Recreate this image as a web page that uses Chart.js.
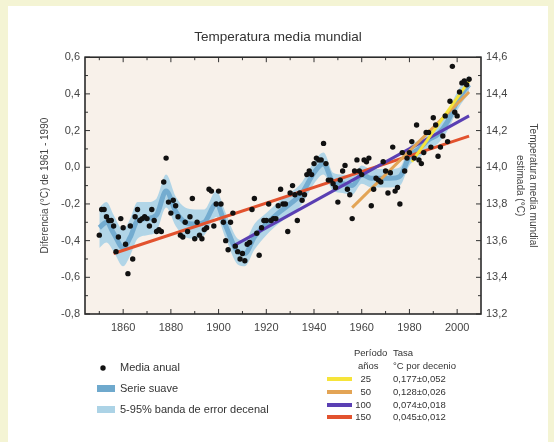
<!DOCTYPE html>
<html>
<head>
<meta charset="utf-8">
<script src="https://cdn.jsdelivr.net/npm/chart.js@4.4.0/dist/chart.umd.min.js"></script>
<style>
  html, body { margin: 0; padding: 0; background: #f4f4d4; }
  #panel { position: absolute; left: 8px; top: 6px; width: 540px; height: 436px; background: #fff; }
</style>
</head>
<body>
<div id="panel"><canvas id="myChart" width="540" height="436"></canvas></div>
<script>
// datos
const YEARS = Array.from({ length: 156 }, (_, i) => 1850 + i);
const ANOMALY = [
  -0.37, -0.23, -0.23, -0.27, -0.29, -0.29, -0.32, -0.46, -0.38, -0.28,
  -0.33, -0.42, -0.58, -0.32, -0.50, -0.27, -0.23, -0.29, -0.28, -0.27,
  -0.28, -0.32, -0.23, -0.29, -0.35, -0.34, -0.35, -0.08, 0.05, -0.19,
  -0.25, -0.18, -0.21, -0.27, -0.37, -0.38, -0.30, -0.35, -0.27, -0.17,
  -0.39, -0.30, -0.37, -0.39, -0.34, -0.33, -0.12, -0.13, -0.32, -0.20,
  -0.13, -0.20, -0.30, -0.40, -0.45, -0.30, -0.25, -0.43, -0.46, -0.50,
  -0.47, -0.51, -0.42, -0.41, -0.23, -0.17, -0.36, -0.48, -0.33, -0.29,
  -0.29, -0.20, -0.29, -0.28, -0.28, -0.21, -0.12, -0.20, -0.20, -0.35,
  -0.14, -0.10, -0.15, -0.29, -0.14, -0.18, -0.15, -0.04, -0.02, -0.04,
  0.02, 0.05, 0.04, 0.04, 0.13, 0.02, -0.07, -0.07, -0.09, -0.11,
  -0.19, -0.07, -0.02, 0.01, -0.12, -0.15, -0.28, -0.02, 0.04, -0.02,
  -0.04, 0.04, 0.03, 0.05, -0.21, -0.12, -0.06, -0.07, -0.08, 0.03,
  -0.02, -0.14, -0.03, 0.11, -0.13, -0.11, -0.20, 0.08, -0.02, 0.05,
  0.08, 0.14, 0.05, 0.23, 0.04, 0.02, 0.08, 0.19, 0.19, 0.11,
  0.27, 0.23, 0.06, 0.11, 0.17, 0.28, 0.14, 0.36, 0.55, 0.30,
  0.28, 0.41, 0.46, 0.47, 0.45, 0.48
];

// serie suave y banda de error
const SMOOTH_YEARS = [1850, 1853, 1856, 1860, 1863, 1866, 1870, 1874, 1878, 1882, 1886, 1890, 1894, 1899, 1903, 1908, 1911, 1915, 1920, 1925, 1930, 1935, 1940, 1944, 1948, 1952, 1956, 1960, 1964, 1968, 1972, 1976, 1980, 1984, 1988, 1992, 1996, 2000, 2003, 2005];
const SMOOTH = [-0.33, -0.30, -0.36, -0.44, -0.38, -0.29, -0.28, -0.26, -0.13, -0.24, -0.30, -0.31, -0.30, -0.20, -0.32, -0.46, -0.47, -0.38, -0.31, -0.25, -0.20, -0.14, -0.03, 0.02, -0.08, -0.09, -0.10, -0.04, -0.06, -0.06, -0.06, -0.05, 0.06, 0.10, 0.15, 0.18, 0.25, 0.36, 0.42, 0.45];
const BAND_LOW = [-0.44, -0.41, -0.46, -0.54, -0.48, -0.39, -0.37, -0.35, -0.22, -0.32, -0.38, -0.39, -0.37, -0.27, -0.39, -0.53, -0.54, -0.45, -0.37, -0.31, -0.26, -0.20, -0.09, -0.04, -0.13, -0.14, -0.15, -0.09, -0.11, -0.11, -0.11, -0.10, 0.01, 0.05, 0.10, 0.13, 0.20, 0.31, 0.37, 0.40];
const BAND_HIGH = [-0.22, -0.19, -0.26, -0.34, -0.28, -0.19, -0.19, -0.17, -0.04, -0.16, -0.22, -0.23, -0.23, -0.13, -0.25, -0.39, -0.40, -0.31, -0.25, -0.19, -0.14, -0.08, 0.03, 0.08, -0.03, -0.04, -0.05, 0.01, -0.01, -0.01, -0.01, 0.00, 0.11, 0.15, 0.20, 0.23, 0.30, 0.41, 0.47, 0.50];

// tendencias lineales
const TREND_PERIODS = ['25', '50', '100', '150'];
const TREND_RATES = ['0,177±0,052', '0,128±0,026', '0,074±0,018', '0,045±0,012'];
const TREND_START_YEAR = [1981, 1956, 1906, 1856];
const TREND_END_YEAR = [2005, 2005, 2005, 2005];
const TREND_START_VAL = [0.03, -0.22, -0.43, -0.47];
const TREND_END_VAL = [0.47, 0.41, 0.28, 0.17];
const TREND_COLORS = ['#f6e43a', '#e3a455', '#5a3fb3', '#e2522e'];

const X_TICKS = [1860, 1880, 1900, 1920, 1940, 1960, 1980, 2000];
const Y_TICKS = [-0.8, -0.6, -0.4, -0.2, 0.0, 0.2, 0.4, 0.6];
const Y2_TICKS = [13.2, 13.4, 13.6, 13.8, 14.0, 14.2, 14.4, 14.6];

const FONT = '"Liberation Sans", Arial, sans-serif';
const fmt = v => v.toFixed(1).replace('.', ',');

// fondo del área del gráfico
const plotBg = {
  id: 'plotBg',
  beforeDraw(chart) {
    const { ctx, chartArea: a } = chart;
    ctx.save();
    ctx.fillStyle = '#f8f1ea';
    ctx.fillRect(a.left, a.top, a.right - a.left, a.bottom - a.top);
    ctx.restore();
  }
};

// marco y marcas hacia dentro
const frameTicks = {
  id: 'frameTicks',
  afterDatasetsDraw(chart) {
    const { ctx, chartArea: a, scales } = chart;
    ctx.save();
    ctx.strokeStyle = '#333';
    ctx.lineWidth = 1;
    ctx.beginPath();
    for (let yr = 1850; yr <= 2010; yr += 10) {
      const x = scales.x.getPixelForValue(yr);
      if (x <= a.left || x >= a.right) continue;
      const len = yr % 20 === 0 ? 5 : 3;
      ctx.moveTo(x, a.bottom); ctx.lineTo(x, a.bottom - len);
      ctx.moveTo(x, a.top); ctx.lineTo(x, a.top + len);
    }
    for (let k = -8; k <= 6; k++) {
      const y = scales.y.getPixelForValue(k / 10);
      const len = k % 2 === 0 ? 5 : 3;
      ctx.moveTo(a.left, y); ctx.lineTo(a.left + len, y);
      ctx.moveTo(a.right, y); ctx.lineTo(a.right - len, y);
    }
    ctx.stroke();
    ctx.lineWidth = 1.6;
    ctx.strokeStyle = '#2b2b2b';
    ctx.strokeRect(a.left, a.top, a.right - a.left, a.bottom - a.top);
    ctx.restore();
  }
};

// leyenda
const legendBox = {
  id: 'legendBox',
  afterDraw(chart) {
    const c = chart.ctx;
    c.save();
    c.textBaseline = 'middle';
    c.fillStyle = '#333';
    c.font = '11px ' + FONT;
    c.beginPath(); c.arc(95, 362, 2.7, 0, Math.PI * 2); c.fillStyle = '#111'; c.fill();
    c.fillStyle = '#333';
    c.fillText('Media anual', 112, 362);
    c.fillStyle = '#6fa9cd'; c.fillRect(89, 379, 18, 7);
    c.fillStyle = '#333'; c.fillText('Serie suave', 112, 383);
    c.fillStyle = '#acd3e6'; c.fillRect(89, 400, 18, 7);
    c.fillStyle = '#333'; c.fillText('5-95% banda de error decenal', 112, 404);

    c.font = '9.5px ' + FONT;
    c.fillText('Período', 346, 347);
    c.fillText('Tasa', 385, 347);
    c.fillText('años', 350, 360);
    c.fillText('°C por decenio', 385, 360);
    const rows = [373, 386, 399, 411];
    rows.forEach((y, i) => {
      c.strokeStyle = TREND_COLORS[i];
      c.lineWidth = 4;
      c.beginPath(); c.moveTo(319, y); c.lineTo(344, y); c.stroke();
      c.fillStyle = '#333';
      c.textAlign = 'right';
      c.fillText(TREND_PERIODS[i], 363, y);
      c.textAlign = 'left';
      c.fillText(TREND_RATES[i], 385, y);
    });
    c.restore();
  }
};

const ctx = document.getElementById('myChart');

const datasets = [
  {
    label: 'Media anual',
    data: YEARS.map((yr, i) => ({ x: yr, y: ANOMALY[i] })),
    showLine: false,
    pointRadius: 2.7,
    pointBackgroundColor: '#111',
    pointBorderWidth: 0
  }
];
TREND_PERIODS.forEach((p, i) => {
  datasets.push({
    label: p + ' años',
    data: [
      { x: TREND_START_YEAR[i], y: TREND_START_VAL[i] },
      { x: TREND_END_YEAR[i], y: TREND_END_VAL[i] }
    ],
    borderColor: TREND_COLORS[i],
    borderWidth: 3,
    pointRadius: 0
  });
});
datasets.push({
  label: 'Serie suave',
  data: SMOOTH_YEARS.map((yr, i) => ({ x: yr, y: SMOOTH[i] })),
  borderColor: '#74acd0',
  borderWidth: 5,
  pointRadius: 0,
  cubicInterpolationMode: 'monotone'
});
datasets.push({
  label: 'banda inf',
  data: SMOOTH_YEARS.map((yr, i) => ({ x: yr, y: BAND_LOW[i] })),
  borderWidth: 0,
  borderColor: 'rgba(0,0,0,0)',
  pointRadius: 0,
  cubicInterpolationMode: 'monotone'
});
datasets.push({
  label: 'banda sup',
  data: SMOOTH_YEARS.map((yr, i) => ({ x: yr, y: BAND_HIGH[i] })),
  borderWidth: 0,
  borderColor: 'rgba(0,0,0,0)',
  backgroundColor: '#b1d5e7',
  fill: '-1',
  pointRadius: 0,
  cubicInterpolationMode: 'monotone'
});

new Chart(ctx, {
  type: 'line',
  data: { datasets },
  options: {
    responsive: false,
    animation: false,
    layout: { padding: { left: 0, right: 0, top: 0, bottom: 98 } },
    plugins: {
      legend: { display: false },
      tooltip: { enabled: false },
      title: {
        display: true,
        text: 'Temperatura media mundial',
        color: '#333',
        font: { family: FONT, size: 13.5, weight: 'normal' },
        padding: { top: 23, bottom: 12 }
      }
    },
    scales: {
      x: {
        type: 'linear',
        min: 1844,
        max: 2010,
        grid: { display: false, drawTicks: false },
        border: { display: false },
        afterBuildTicks: s => { s.ticks = X_TICKS.map(v => ({ value: v })); },
        afterFit: s => { s.height = 30; },
        ticks: {
          padding: 7,
          color: '#444',
          font: { family: FONT, size: 11 },
          maxRotation: 0,
          callback: v => String(v)
        }
      },
      y: {
        type: 'linear',
        position: 'left',
        min: -0.8,
        max: 0.6,
        grid: { display: false, drawTicks: false },
        border: { display: false },
        afterBuildTicks: s => { s.ticks = Y_TICKS.map(v => ({ value: v })); },
        afterFit: s => { s.width = 77; },
        ticks: {
          padding: 5,
          color: '#444',
          font: { family: FONT, size: 11 },
          callback: v => fmt(v)
        },
        title: {
          display: true,
          text: 'Diferencia (°C) de 1961 - 1990',
          color: '#444',
          font: { family: FONT, size: 10 },
          padding: { top: 31, bottom: 0 }
        }
      },
      y2: {
        type: 'linear',
        position: 'right',
        min: 13.2,
        max: 14.6,
        grid: { display: false, drawTicks: false },
        border: { display: false },
        afterBuildTicks: s => { s.ticks = Y2_TICKS.map(v => ({ value: v })); },
        afterFit: s => { s.width = 67; },
        ticks: {
          padding: 5,
          color: '#444',
          font: { family: FONT, size: 11 },
          callback: v => fmt(v)
        },
        title: {
          display: true,
          text: ['Temperatura media mundial', 'estimada (°C)'],
          color: '#444',
          font: { family: FONT, size: 10, lineHeight: 1.3 },
          padding: { top: 9, bottom: 0 }
        }
      }
    }
  },
  plugins: [plotBg, frameTicks, legendBox]
});
</script>
</body>
</html>
